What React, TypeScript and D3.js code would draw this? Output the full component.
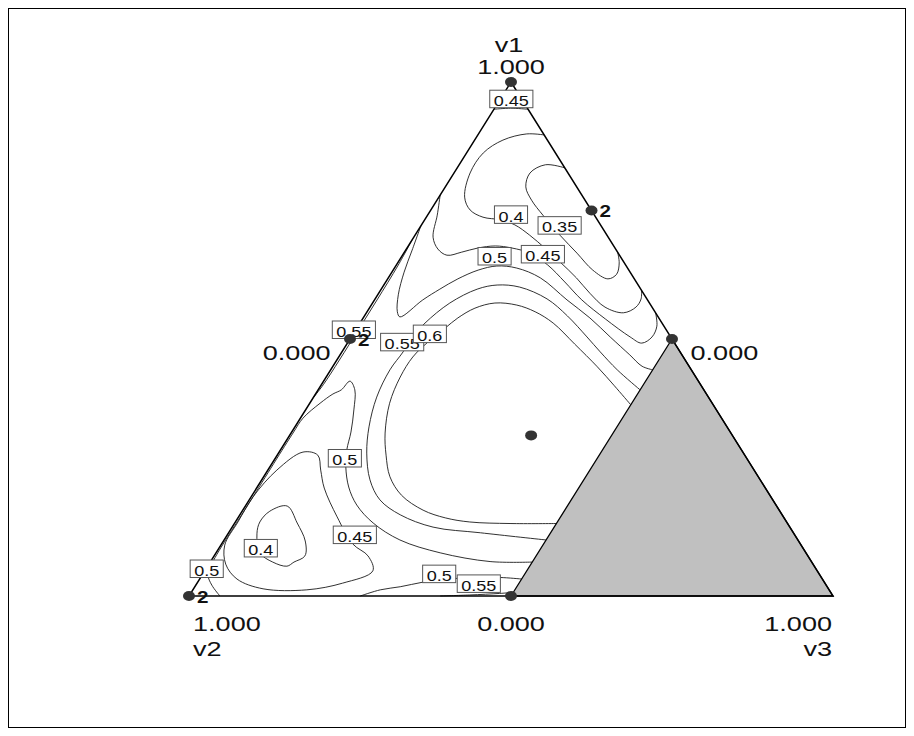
import React from "react";
import * as d3 from "d3";

// ---- Mixture design runs (component fractions) ----
const runV1 = [1, 0.75, 0.5, 0.5, 0.3125, 0, 0];
const runV3 = [0, 0.25, 0, 0.5, 0.375, 0, 0.5];
const runReplicates = [1, 2, 2, 1, 1, 2, 1];

// Feasible region: v3 <= 0.5 (the rest is shaded)
const v3Limit = 0.5;

// ---- Response contours, as [v1, v3] pairs (v2 = 1 - v1 - v3) ----
const contour045Apex = [[0.947, 0.0], [0.949, 0.025], [0.947, 0.053]];
const contour040Upper = [
  [0.897, 0.103], [0.899, 0.075], [0.887, 0.044], [0.862, 0.026], [0.823, 0.025],
  [0.776, 0.04], [0.751, 0.061], [0.737, 0.088], [0.732, 0.117], [0.722, 0.145],
  [0.702, 0.178], [0.677, 0.214], [0.65, 0.251], [0.619, 0.292], [0.589, 0.328],
  [0.562, 0.365], [0.551, 0.399], [0.562, 0.413], [0.578, 0.413], [0.595, 0.405],
];
const contour035 = [
  [0.833, 0.167], [0.839, 0.134], [0.823, 0.118], [0.796, 0.125], [0.77, 0.147],
  [0.741, 0.179], [0.702, 0.225], [0.667, 0.269], [0.634, 0.31], [0.617, 0.342],
  [0.626, 0.351], [0.648, 0.344], [0.669, 0.331],
];
const contour045Upper = [
  [0.78, 0.0], [0.741, 0.015], [0.698, 0.03], [0.675, 0.049], [0.663, 0.069],
  [0.669, 0.089], [0.677, 0.11], [0.681, 0.135], [0.677, 0.163], [0.667, 0.196],
  [0.644, 0.235], [0.611, 0.278], [0.576, 0.322], [0.539, 0.377], [0.504, 0.433],
  [0.492, 0.457], [0.504, 0.467], [0.525, 0.464], [0.551, 0.449],
];
const contour050Upper = [
  [0.72, 0.0], [0.673, 0.01], [0.63, 0.019], [0.586, 0.032], [0.553, 0.047],
  [0.543, 0.056], [0.576, 0.075], [0.597, 0.091], [0.617, 0.109], [0.634, 0.132],
  [0.642, 0.157], [0.638, 0.19], [0.619, 0.236], [0.576, 0.299], [0.541, 0.352],
  [0.504, 0.402], [0.469, 0.45], [0.447, 0.48], [0.44, 0.5],
];
const contour055Inner = [
  [0.401, 0.5], [0.44, 0.445], [0.475, 0.401], [0.504, 0.366], [0.545, 0.315],
  [0.578, 0.267], [0.601, 0.213], [0.605, 0.176], [0.597, 0.149], [0.57, 0.12],
  [0.531, 0.101], [0.502, 0.095], [0.475, 0.095], [0.44, 0.092], [0.387, 0.098],
  [0.329, 0.115], [0.278, 0.137], [0.226, 0.168], [0.187, 0.203], [0.158, 0.249],
  [0.134, 0.312], [0.123, 0.391], [0.109, 0.5],
];
const contour060 = [
  [0.372, 0.5], [0.409, 0.456], [0.446, 0.411], [0.49, 0.354], [0.531, 0.3],
  [0.553, 0.261], [0.566, 0.226], [0.57, 0.19], [0.56, 0.164], [0.541, 0.147],
  [0.521, 0.137], [0.494, 0.124], [0.465, 0.115], [0.426, 0.115], [0.375, 0.124],
  [0.317, 0.146], [0.274, 0.169], [0.232, 0.196], [0.196, 0.232], [0.167, 0.28],
  [0.152, 0.322], [0.144, 0.364], [0.141, 0.428], [0.141, 0.5],
];
const contour055Edge = [
  [0.693, 0.0], [0.644, 0.003], [0.576, 0.004], [0.518, 0.004], [0.459, 0.004],
  [0.411, 0.003], [0.385, 0.0],
];
const contour050Left = [
  [0.0, 0.048], [0.021, 0.025], [0.041, 0.009], [0.064, 0.004], [0.187, 0.003],
  [0.317, 0.003], [0.346, 0.004], [0.375, 0.016], [0.393, 0.027], [0.401, 0.036],
  [0.418, 0.041], [0.401, 0.057], [0.362, 0.075], [0.319, 0.092], [0.284, 0.103],
  [0.251, 0.118], [0.212, 0.142], [0.177, 0.172], [0.142, 0.215], [0.109, 0.273],
  [0.084, 0.348], [0.067, 0.434], [0.066, 0.5],
];
const contour050Bottom = [
  [0.0, 0.266], [0.012, 0.291], [0.018, 0.319], [0.027, 0.35], [0.033, 0.381],
  [0.035, 0.419], [0.036, 0.465], [0.033, 0.5],
];
const contour055Bottom = [[0.0, 0.39], [0.002, 0.435], [0.005, 0.48], [0.007, 0.5]];
const contour045Lower = [
  [0.193, 0.003], [0.245, 0.014], [0.28, 0.037], [0.274, 0.063], [0.245, 0.082],
  [0.21, 0.105], [0.154, 0.153], [0.101, 0.204], [0.078, 0.239], [0.049, 0.261],
  [0.025, 0.226], [0.012, 0.177], [0.014, 0.108], [0.033, 0.058], [0.062, 0.026],
  [0.099, 0.006], [0.144, 0.004],
];
const contour040Lower = [
  [0.121, 0.045], [0.144, 0.038], [0.165, 0.043], [0.175, 0.065], [0.142, 0.097],
  [0.107, 0.127], [0.078, 0.141], [0.066, 0.13], [0.058, 0.123], [0.066, 0.097],
  [0.084, 0.068],
];

const openContours = [
  contour045Apex, contour040Upper, contour035, contour045Upper, contour050Upper,
  contour055Inner, contour060, contour055Edge, contour050Left, contour050Bottom,
  contour055Bottom,
];
const closedContours = [contour045Lower, contour040Lower];

// ---- Contour value labels ----
const labelText = ["0.45", "0.4", "0.35", "0.5", "0.45", "0.55", "0.55", "0.6", "0.5", "0.45", "0.4", "0.5", "0.5", "0.55"];
const labelV1 = [0.967, 0.742, 0.721, 0.661, 0.665, 0.518, 0.494, 0.51, 0.268, 0.119, 0.093, 0.053, 0.043, 0.024];
const labelV3 = [0.017, 0.129, 0.215, 0.144, 0.217, -0.003, 0.084, 0.119, 0.108, 0.198, 0.065, 0.001, 0.367, 0.438];

// ---- Layout ----
const W = 898;
const H = 720;
const TRI_LEFT = 181;
const TRI_RIGHT = 825;
const TRI_TOP = 74;
const TRI_BOTTOM = 588;
const STRETCH = 1.29;
const FONT = "'Liberation Sans', Arial, Helvetica, sans-serif";

const xScale = d3.scaleLinear().domain([0, 1]).range([TRI_LEFT, TRI_RIGHT]);
const yScale = d3.scaleLinear().domain([0, 1]).range([TRI_BOTTOM, TRI_TOP]);
const project = (v1: number, v3: number): [number, number] => [xScale(v3 + v1 / 2), yScale(v1)];

const openLine = d3
  .line<number[]>()
  .x((d) => project(d[0], d[1])[0])
  .y((d) => project(d[0], d[1])[1])
  .curve(d3.curveCatmullRom.alpha(0.5));
const closedLine = d3
  .line<number[]>()
  .x((d) => project(d[0], d[1])[0])
  .y((d) => project(d[0], d[1])[1])
  .curve(d3.curveCatmullRomClosed.alpha(0.5));

function SText(props: {
  x: number; y: number; size: number; anchor?: string; weight?: string; children: React.ReactNode;
}) {
  const { x, y, size, anchor = "start", weight = "normal", children } = props;
  return (
    <text
      transform={`translate(${x},${y}) scale(${STRETCH},1)`}
      textAnchor={anchor}
      fontSize={size}
      fontFamily={FONT}
      fontWeight={weight}
      fill="#111"
    >
      {children}
    </text>
  );
}

const advance = (s: string) =>
  s.split("").reduce((acc, ch) => acc + (ch === "." ? 0.278 : 0.556), 0);

export default function App() {
  const apex = project(1, 0);
  const leftVertex = project(0, 0);
  const rightVertex = project(0, 1);
  const leftMid = project(0.5, 0);
  const rightMid = project(0.5, 0.5);
  const bottomMid = project(0, 0.5);

  const trianglePath = d3.line()([apex, leftVertex, rightVertex, apex] as [number, number][]) + "Z";
  const excluded = [project(1 - v3Limit, v3Limit), project(0, v3Limit), project(0, 1)];
  const excludedPath = d3.line()(excluded as [number, number][]) + "Z";

  const labelSize = 14;

  return (
    <svg width={W} height={H} style={{ display: "block" }}>
      <rect x={0.5} y={0.5} width={W - 1} height={H - 1} fill="#fff" stroke="#000" strokeWidth={1} />

      {/* contours */}
      <g fill="none" stroke="#1a1a1a" strokeWidth={0.9}>
        {openContours.map((c, i) => (
          <path key={"o" + i} d={openLine(c) || ""} />
        ))}
        {closedContours.map((c, i) => (
          <path key={"c" + i} d={closedLine(c) || ""} />
        ))}
      </g>

      {/* excluded region and simplex */}
      <path d={excludedPath} fill="#c0c0c0" stroke="#000" strokeWidth={1.3} />
      <path d={trianglePath} fill="none" stroke="#000" strokeWidth={1.5} />

      {/* contour labels */}
      {labelText.map((t, i) => {
        const [cx, cy] = project(labelV1[i], labelV3[i]);
        const w = advance(t) * labelSize * STRETCH + 8;
        const h = 17.5;
        return (
          <g key={"l" + i}>
            <rect x={cx - w / 2} y={cy - h / 2} width={w} height={h} fill="#fff" stroke="#555" strokeWidth={1} />
            <SText x={cx} y={cy + 7} size={labelSize} anchor="middle">
              {t}
            </SText>
          </g>
        );
      })}

      {/* design points */}
      {runV1.map((v1, i) => {
        const [px, py] = project(v1, runV3[i]);
        return (
          <g key={"p" + i}>
            <ellipse cx={px} cy={py} rx={6} ry={5} fill="#333" />
            {runReplicates[i] > 1 && (
              <SText x={px + 8} y={py + 6.5} size={16} weight="bold">
                {String(runReplicates[i])}
              </SText>
            )}
          </g>
        );
      })}

      {/* vertex and edge annotations */}
      <SText x={apex[0] - 2} y={apex[1] - 30} size={21} anchor="middle">v1</SText>
      <SText x={apex[0]} y={apex[1] - 8} size={21} anchor="middle">1.000</SText>
      <SText x={leftMid[0] - 19.5} y={leftMid[1] + 21} size={21} anchor="end">0.000</SText>
      <SText x={rightMid[0] + 18.5} y={rightMid[1] + 21} size={21} anchor="start">0.000</SText>
      <SText x={leftVertex[0] + 4} y={leftVertex[1] + 35} size={21} anchor="start">1.000</SText>
      <SText x={leftVertex[0] + 4} y={leftVertex[1] + 60} size={21} anchor="start">v2</SText>
      <SText x={bottomMid[0]} y={bottomMid[1] + 35} size={21} anchor="middle">0.000</SText>
      <SText x={rightVertex[0] - 1} y={rightVertex[1] + 35} size={21} anchor="end">1.000</SText>
      <SText x={rightVertex[0] - 1} y={rightVertex[1] + 60} size={21} anchor="end">v3</SText>
    </svg>
  );
}
